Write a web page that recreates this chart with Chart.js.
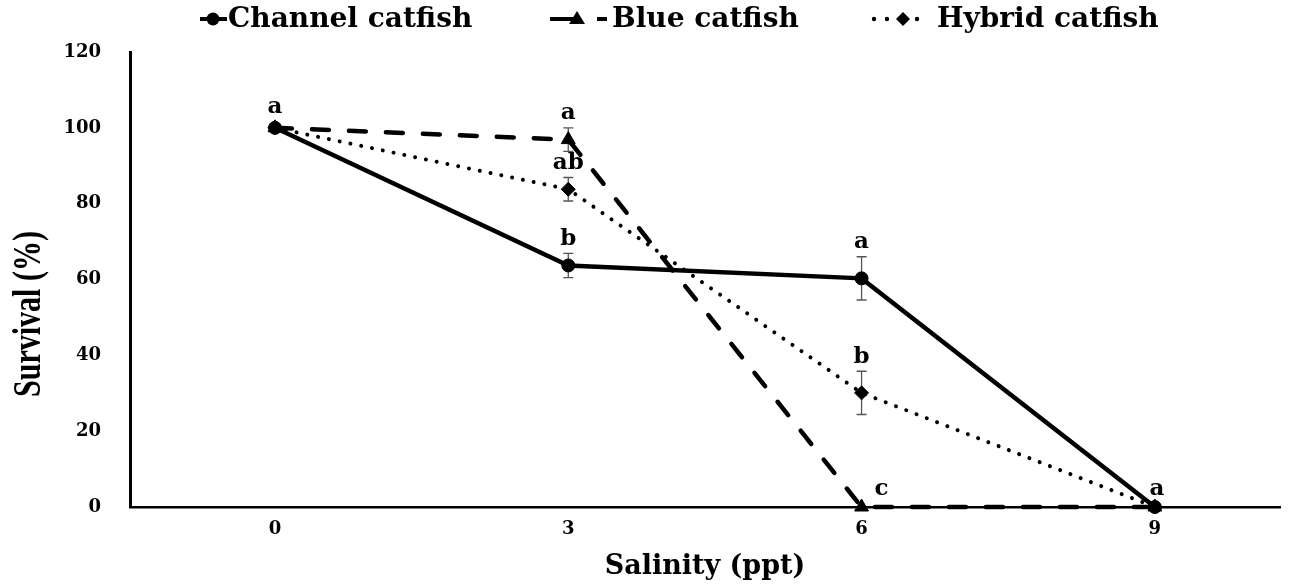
<!DOCTYPE html>
<html>
<head>
<meta charset="utf-8">
<script src="https://cdn.jsdelivr.net/npm/chart.js@4.4.1/dist/chart.umd.min.js"></script>
<style>
  html, body { margin: 0; padding: 0; background: #fff; }
  #wrap { width: 1293px; height: 586px; }
</style>
</head>
<body>
<div id="wrap"><canvas id="myChart" width="1293" height="586"></canvas></div>
<script>
const salinity = [0, 3, 6, 9];
const channel = [100, 63.7, 60.3, 0];
const channelErr = [0, 3.2, 5.7, 0];
const blue = [100, 96.9, 0, 0];
const blueErr = [0, 3.1, 0, 0];
const hybrid = [100, 83.8, 30.1, 0];
const hybridErr = [0, 3.1, 5.7, 0];
const yTicks = [0, 20, 40, 60, 80, 100, 120];

// significance letters: [series, point index, text]
const letters = [
    [0, 0, "a"],
    [1, 1, "a"],
    [2, 1, "ab"],
    [0, 1, "b"],
    [0, 2, "a"],
    [2, 2, "b"],
    [1, 2, "c"],
    [0, 3, "a"],
];

const serif = "'DejaVu Serif', 'Liberation Serif', serif";
const errs = [channelErr, blueErr, hybridErr];

const toXY = (xs, ys) => xs.map((x, i) => ({ x, y: ys[i] }));

const extras = {
    id: "extras",
    beforeDatasetsDraw(chart) {
        const { ctx } = chart;
        const xs = chart.scales.x, ys = chart.scales.y;
        ctx.save();
        ctx.strokeStyle = "#555";
        ctx.lineWidth = 1.3;
        errs.forEach((e, di) => {
            const vals = chart.data.datasets[di].data;
            e.forEach((err, i) => {
                if (!err) return;
                const px = xs.getPixelForValue(vals[i].x);
                const top = ys.getPixelForValue(vals[i].y + err);
                const bot = ys.getPixelForValue(vals[i].y - err);
                ctx.beginPath();
                ctx.moveTo(px, top); ctx.lineTo(px, bot);
                ctx.moveTo(px - 5, top); ctx.lineTo(px + 5, top);
                ctx.moveTo(px - 5, bot); ctx.lineTo(px + 5, bot);
                ctx.stroke();
            });
        });
        ctx.restore();
    },
    afterDatasetsDraw(chart) {
        const { ctx } = chart;
        const xs = chart.scales.x, ys = chart.scales.y;
        ctx.save();
        ctx.fillStyle = "#000";
        ctx.font = "bold 23px " + serif;
        ctx.textAlign = "center";
        ctx.textBaseline = "bottom";
        letters.forEach(([di, i, t]) => {
            const p = chart.data.datasets[di].data[i];
            let px = xs.getPixelForValue(p.x);
            let py = ys.getPixelForValue(p.y + errs[di][i]);
            if (p.y === 0) {
                // letters at zero sit to the right of the marker
                px += di === 1 ? 20 : 2;
                py -= 6;
            } else {
                py -= errs[di][i] ? 3 : 9;
            }
            ctx.fillText(t, px, py);
        });
        ctx.restore();
    },
    afterDraw(chart) {
        const { ctx } = chart;
        ctx.save();
        // y axis title, condensed
        ctx.fillStyle = "#000";
        ctx.translate(30, 314);
        ctx.rotate(-Math.PI / 2);
        ctx.scale(1, 1.3);
        ctx.font = "bold 30px 'Liberation Serif', serif";
        ctx.textAlign = "center";
        ctx.textBaseline = "middle";
        ctx.fillText("Survival (%)", 0, 0);
        ctx.restore();

        // legend
        const ly = 19;
        ctx.save();
        ctx.fillStyle = "#000";
        ctx.strokeStyle = "#000";
        ctx.lineWidth = 4;
        ctx.font = "bold 28px " + serif;
        ctx.textBaseline = "middle";
        // channel
        ctx.beginPath(); ctx.moveTo(200, ly); ctx.lineTo(227, ly); ctx.stroke();
        ctx.beginPath(); ctx.arc(213, ly, 6.5, 0, Math.PI * 2); ctx.fill();
        ctx.fillText("Channel catfish", 228, ly + 1);
        // blue
        ctx.beginPath(); ctx.moveTo(550, ly); ctx.lineTo(574, ly); ctx.stroke();
        ctx.beginPath(); ctx.moveTo(597, ly); ctx.lineTo(607, ly); ctx.stroke();
        ctx.beginPath();
        ctx.moveTo(577, ly - 8); ctx.lineTo(585, ly + 5); ctx.lineTo(569, ly + 5); ctx.closePath(); ctx.fill();
        ctx.fillText("Blue catfish", 612, ly + 1);
        // hybrid
        [874, 887, 917].forEach((dx) => {
            ctx.beginPath(); ctx.arc(dx, ly, 2.2, 0, Math.PI * 2); ctx.fill();
        });
        ctx.beginPath();
        ctx.moveTo(903, ly - 7); ctx.lineTo(910, ly); ctx.lineTo(903, ly + 7); ctx.lineTo(896, ly); ctx.closePath(); ctx.fill();
        ctx.fillText("Hybrid catfish", 937, ly + 1);
        ctx.restore();
    },
};

const common = {
    borderColor: "#000",
    backgroundColor: "#000",
    pointBackgroundColor: "#000",
    pointBorderColor: "#000",
    borderWidth: 4.5,
    pointBorderWidth: 1,
    tension: 0,
    clip: false,
};

const myChart = new Chart(document.getElementById("myChart"), {
    type: "line",
    data: {
        datasets: [
            {
                ...common,
                label: "Channel catfish",
                data: toXY(salinity, channel),
                pointStyle: "circle",
                pointRadius: 6.5,
                order: 1,
            },
            {
                ...common,
                label: "Blue catfish",
                data: toXY(salinity, blue),
                borderDash: [17, 20],
                borderCapStyle: "round",
                pointStyle: "triangle",
                pointRadius: 8,
                order: 2,
            },
            {
                ...common,
                label: "Hybrid catfish",
                data: toXY(salinity, hybrid),
                borderWidth: 4,
                borderDash: [0.01, 11],
                borderCapStyle: "round",
                pointStyle: "rectRot",
                pointRadius: 7,
                order: 3,
            },
        ],
    },
    options: {
        responsive: false,
        animation: false,
        layout: { padding: { top: 52, right: 13, left: 0, bottom: 0 } },
        plugins: {
            legend: { display: false },
            tooltip: { enabled: false },
        },
        scales: {
            x: {
                type: "linear",
                min: -1.483,
                max: 10.28,
                afterBuildTicks: (s) => { s.ticks = salinity.map((v) => ({ value: v })); },
                afterFit: (s) => { s.height = 79; },
                grid: { display: false, drawTicks: false },
                border: { display: true, color: "#000", width: 2.5 },
                ticks: {
                    color: "#000",
                    padding: 12,
                    font: { family: serif, size: 18, weight: "bold" },
                },
                title: {
                    display: true,
                    text: "Salinity (ppt)",
                    color: "#000",
                    padding: { top: 4, bottom: 3 },
                    font: { family: serif, size: 27, weight: "bold" },
                },
            },
            y: {
                min: 0,
                max: 120,
                afterBuildTicks: (s) => { s.ticks = yTicks.map((v) => ({ value: v })); },
                afterFit: (s) => { s.width = 130; },
                grid: { display: false, drawTicks: false },
                border: { display: true, color: "#000", width: 3 },
                ticks: {
                    color: "#000",
                    padding: 29,
                    font: { family: serif, size: 18, weight: "bold" },
                },
            },
        },
    },
    plugins: [extras],
});
</script>
</body>
</html>
